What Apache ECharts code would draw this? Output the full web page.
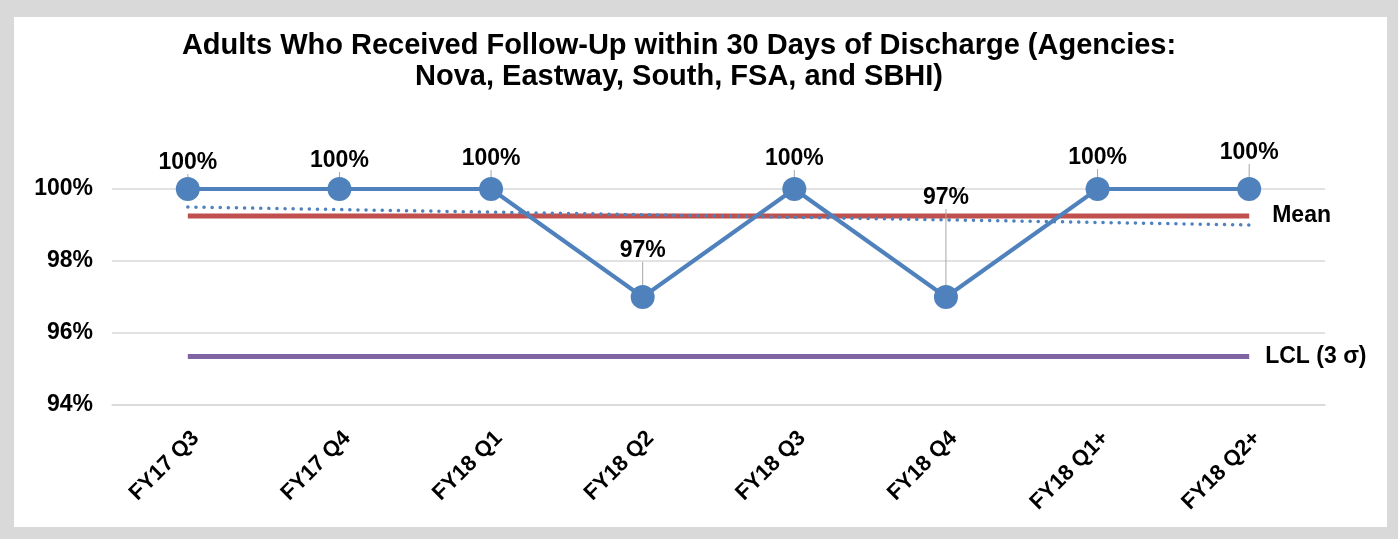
<!DOCTYPE html>
<html>
<head>
<meta charset="utf-8">
<script src="https://cdn.jsdelivr.net/npm/echarts@6/dist/echarts.min.js"></script>
<style>
  html, body { margin: 0; padding: 0; background: #d9d9d9; }
  #chart { position: absolute; left: 14px; top: 17px; width: 1373px; height: 510px; background: #ffffff; }
</style>
</head>
<body>
<div id="chart"></div>
<script>
// quarters on the x axis
const categories = ['FY17 Q3', 'FY17 Q4', 'FY18 Q1', 'FY18 Q2', 'FY18 Q3', 'FY18 Q4', 'FY18 Q1+', 'FY18 Q2+'];
// % of adults with follow-up
const followUp = [100, 100, 100, 97, 100, 97, 100, 100];
// control chart lines
const meanValue = 99.25;
const lclValue = 95.35;
// linear trend end points (first / last quarter)
const trendStart = 99.5;
const trendEnd = 99.0;
const yTicks = [94, 96, 98, 100];

// label nudges so they sit like the original (px, vertical)
const labelShift = [0, -2, -4, -20, -4, -73, -5, -10];

const font = 'Liberation Sans, Arial, sans-serif';
const chart = echarts.init(document.getElementById('chart'));

const option = {
  animation: false,
  title: {
    text: 'Adults Who Received Follow-Up within 30 Days of Discharge (Agencies:\nNova, Eastway, South, FSA, and SBHI)',
    left: 665,
    top: 13,
    padding: 0,
    textAlign: 'center',
    textStyle: {
      fontFamily: font,
      fontWeight: 'bold',
      fontSize: 29,
      lineHeight: 31,
      color: '#000'
    }
  },
  grid: {
    left: 98,
    right: 62,
    top: 172,
    bottom: 122
  },
  xAxis: {
    type: 'category',
    boundaryGap: true,
    data: categories,
    axisLine: { show: true, lineStyle: { color: '#d9d9d9', width: 1.5 } },
    axisTick: { show: false },
    axisLabel: {
      rotate: 45,
      align: 'right',
      verticalAlign: 'top',
      margin: 22,
      interval: 0,
      fontFamily: font,
      fontWeight: 'bold',
      fontSize: 22,
      color: '#000'
    }
  },
  yAxis: {
    type: 'value',
    min: yTicks[0],
    max: yTicks[yTicks.length - 1],
    interval: 2,
    axisLine: { show: false },
    axisTick: { show: false },
    splitLine: { lineStyle: { color: '#d9d9d9', width: 1.5 } },
    axisLabel: {
      margin: 19,
      fontFamily: font,
      fontWeight: 'bold',
      fontSize: 23,
      color: '#000',
      formatter: (v) => v + '%'
    }
  },
  series: [
    {
      name: 'LCL',
      type: 'line',
      data: categories.map(() => lclValue),
      symbol: 'none',
      lineStyle: { color: '#8064a2', width: 5 },
      endLabel: {
        show: true,
        distance: 16,
        formatter: 'LCL (3 σ)',
        fontFamily: font,
        fontWeight: 'bold',
        fontSize: 23,
        color: '#000'
      },
      z: 2
    },
    {
      name: 'Mean',
      type: 'line',
      data: categories.map(() => meanValue),
      symbol: 'none',
      lineStyle: { color: '#c0504d', width: 5 },
      endLabel: {
        show: true,
        distance: 23,
        formatter: 'Mean',
        fontFamily: font,
        fontWeight: 'bold',
        fontSize: 23,
        color: '#000'
      },
      z: 2
    },
    {
      name: 'Trend',
      type: 'line',
      data: [[0, trendStart], [categories.length - 1, trendEnd]],
      symbol: 'none',
      lineStyle: { color: '#4f81bd', width: 3.5, type: [0.1, 8], cap: 'round' },
      z: 3
    },
    {
      name: 'Follow-Up',
      type: 'line',
      data: followUp,
      symbol: 'circle',
      symbolSize: 24,
      itemStyle: { color: '#4f81bd' },
      lineStyle: { color: '#4f81bd', width: 4 },
      label: {
        show: true,
        position: 'top',
        distance: 3,
        fontFamily: font,
        fontWeight: 'bold',
        fontSize: 23,
        color: '#000',
        formatter: (p) => p.value + '%'
      },
      labelLine: {
        show: true,
        lineStyle: { color: '#a6a6a6', width: 1 }
      },
      labelLayout: (p) => ({ dy: labelShift[p.dataIndex] }),
      z: 4
    }
  ]
};

chart.setOption(option);
</script>
</body>
</html>
